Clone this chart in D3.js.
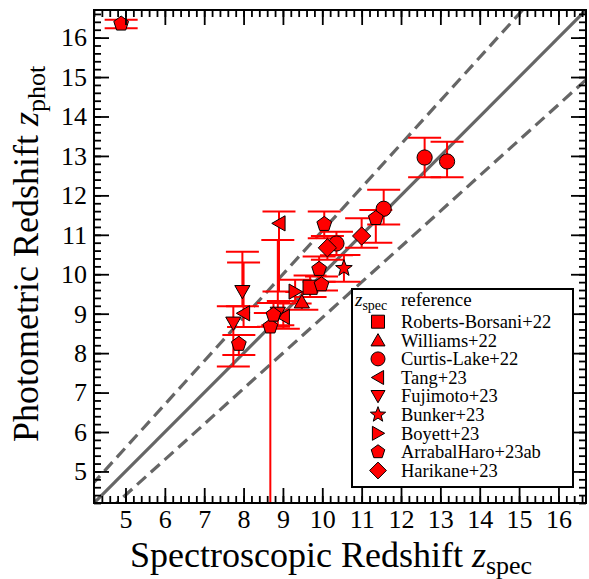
<!DOCTYPE html>
<html>
<head>
<meta charset="utf-8">
<script src="https://cdn.jsdelivr.net/npm/d3@7"></script>
<style>
  html, body { margin: 0; padding: 0; background: #fff; }
  svg text { font-family: "Liberation Serif", "DejaVu Serif", serif; fill: #000; }
</style>
</head>
<body>
<svg id="chart" width="589" height="579"></svg>
<script>
// ---- axis settings ----
const zDomain = [4.2, 16.7];
const majorTicks = [5, 6, 7, 8, 9, 10, 11, 12, 13, 14, 15, 16];
const scatterFraction = 0.1;   // dashed lines: z_phot = z_spec +/- 0.1 (1 + z_spec)

// ---- samples: spectroscopic z, photometric z, lower / upper photometric errors ----
const categories = [
  "Roberts-Borsani+22", "Williams+22", "Curtis-Lake+22", "Tang+23", "Fujimoto+23",
  "Bunker+23", "Boyett+23", "ArrabalHaro+23ab", "Harikane+23"
];
const markerShapes = ["square", "triUp", "circle", "triLeft", "triDown", "star", "triRight", "pentagon", "diamond"];

const robertsBorsaniSpec = [9.69];
const robertsBorsaniPhot = [9.67];
const robertsBorsaniLo   = [0.25];
const robertsBorsaniHi   = [0.30];

const williamsSpec = [9.48];
const williamsPhot = [9.30];
const williamsLo   = [0.20];
const williamsHi   = [0.25];

const curtisLakeSpec = [10.36, 11.56, 12.60, 13.17];
const curtisLakePhot = [10.78, 11.66, 12.96, 12.86];
const curtisLakeLo   = [0.30, 0.40, 0.50, 0.40];
const curtisLakeHi   = [0.30, 0.48, 0.50, 0.50];

const tangSpec = [8.90, 8.00, 9.01];
const tangPhot = [11.29, 9.01, 8.92];
const tangLo   = [1.73, 0.35, 0.30];
const tangHi   = [0.30, 1.29, 0.40];

const fujimotoSpec = [7.97, 7.74, 8.87];
const fujimotoPhot = [9.56, 8.76, 9.01];
const fujimotoLo   = [0.37, 1.10, 0.30];
const fujimotoHi   = [1.01, 0.43, 1.86];

const bunkerSpec = [10.55];
const bunkerPhot = [10.15];
const bunkerLo   = [0.34];
const bunkerHi   = [0.34];

const boyettSpec = [9.31];
const boyettPhot = [9.56];
const boyettLo   = [0.30];
const boyettHi   = [0.30];

const arrabalHaroSpec = [4.89, 8.68, 8.76, 7.88, 9.92, 9.98, 10.05, 11.36];
const arrabalHaroPhot = [16.35, 8.67, 8.97, 8.23, 10.13, 9.74, 11.27, 11.42];
const arrabalHaroLo   = [0.11, 5.00, 0.30, 0.28, 0.32, 0.15, 0.36, 0.62];
const arrabalHaroHi   = [0.10, 0.35, 0.30, 0.23, 0.32, 0.20, 0.32, 0.21];

const harikaneSpec = [10.13, 11.00];
const harikanePhot = [10.67, 10.97];
const harikaneLo   = [0.30, 0.30];
const harikaneHi   = [0.30, 0.45];

const seriesSpec = [robertsBorsaniSpec, williamsSpec, curtisLakeSpec, tangSpec, fujimotoSpec, bunkerSpec, boyettSpec, arrabalHaroSpec, harikaneSpec];
const seriesPhot = [robertsBorsaniPhot, williamsPhot, curtisLakePhot, tangPhot, fujimotoPhot, bunkerPhot, boyettPhot, arrabalHaroPhot, harikanePhot];
const seriesLo   = [robertsBorsaniLo, williamsLo, curtisLakeLo, tangLo, fujimotoLo, bunkerLo, boyettLo, arrabalHaroLo, harikaneLo];
const seriesHi   = [robertsBorsaniHi, williamsHi, curtisLakeHi, tangHi, fujimotoHi, bunkerHi, boyettHi, arrabalHaroHi, harikaneHi];

// ---- layout ----
const plot = { left: 94, right: 586, top: 10, bottom: 503 };
const svg = d3.select("#chart");

const x = d3.scaleLinear().domain(zDomain).range([plot.left, plot.right]);
const y = d3.scaleLinear().domain(zDomain).range([plot.bottom, plot.top]);

const minorTicks = d3.range(42, 168, 2).map(v => v / 10);

svg.append("defs").append("clipPath").attr("id", "plot-clip")
  .append("rect")
  .attr("x", plot.left).attr("y", plot.top)
  .attr("width", plot.right - plot.left).attr("height", plot.bottom - plot.top);

const inner = svg.append("g").attr("clip-path", "url(#plot-clip)");

// ---- one-to-one relation and the +/-10% (1+z) band ----
const line = d3.line().x(d => x(d[0])).y(d => y(d[1]));
const lineZ = [zDomain[0] - 1, zDomain[1] + 1];
inner.append("path")
  .attr("d", line(lineZ.map(z => [z, z])))
  .attr("fill", "none").attr("stroke", "#666").attr("stroke-width", 3.2);
[1, -1].forEach(sgn => {
  inner.append("path")
    .attr("d", line(lineZ.map(z => [z, z + sgn * scatterFraction * (1 + z)])))
    .attr("fill", "none").attr("stroke", "#666").attr("stroke-width", 3.2)
    .attr("stroke-dasharray", "12,6.5");
});

// ---- marker shapes ----
function poly(pts) {
  return "M" + pts.map(p => p[0].toFixed(2) + "," + p[1].toFixed(2)).join("L") + "Z";
}
function rotate(pts, deg) {
  const a = deg * Math.PI / 180, c = Math.cos(a), s = Math.sin(a);
  return pts.map(([px, py]) => [px * c - py * s, px * s + py * c]);
}
function markerPath(shape, r) {
  const tri = [[0, -r * 0.95], [r, r * 0.8], [-r, r * 0.8]];
  switch (shape) {
    case "square": { const h = r * 0.93; return poly([[-h, -h], [h, -h], [h, h], [-h, h]]); }
    case "circle": { const p = d3.path(); p.arc(0, 0, r, 0, 2 * Math.PI); p.closePath(); return p.toString(); }
    case "triUp": return poly(tri);
    case "triDown": return poly(rotate(tri, 180));
    case "triLeft": return poly(rotate(tri, -90));
    case "triRight": return poly(rotate(tri, 90));
    case "pentagon": {
      const R = r * 1.02;
      return poly(d3.range(5).map(i => { const a = -Math.PI / 2 + i * 2 * Math.PI / 5; return [R * Math.cos(a), R * Math.sin(a)]; }));
    }
    case "star": {
      const R = r * 1.15, ri = R * 0.42;
      return poly(d3.range(10).map(i => { const a = -Math.PI / 2 + i * Math.PI / 5; const rr = i % 2 ? ri : R; return [rr * Math.cos(a), rr * Math.sin(a)]; }));
    }
    case "diamond": { const d = r * 1.2; return poly([[0, -d], [d, 0], [0, d], [-d, 0]]); }
  }
}

const red = "#ff0000";
const capHalf = 16.5;
const markerR = 7.6;

// ---- error bars then markers, per sample ----
categories.forEach((cat, k) => {
  const pts = seriesSpec[k].map((zs, i) => ({
    zs, zp: seriesPhot[k][i], lo: seriesLo[k][i], hi: seriesHi[k][i]
  }));
  const g = inner.append("g").attr("class", "sample");
  const eb = g.selectAll("g.err").data(pts).enter().append("g").attr("class", "err")
    .attr("stroke", red).attr("stroke-width", 2).attr("fill", "none");
  eb.append("line")
    .attr("x1", d => x(d.zs)).attr("x2", d => x(d.zs))
    .attr("y1", d => y(d.zp - d.lo)).attr("y2", d => y(d.zp + d.hi));
  eb.append("line")
    .attr("x1", d => x(d.zs) - capHalf).attr("x2", d => x(d.zs) + capHalf)
    .attr("y1", d => y(d.zp + d.hi)).attr("y2", d => y(d.zp + d.hi));
  eb.append("line")
    .attr("x1", d => x(d.zs) - capHalf).attr("x2", d => x(d.zs) + capHalf)
    .attr("y1", d => y(d.zp - d.lo)).attr("y2", d => y(d.zp - d.lo));
});
categories.forEach((cat, k) => {
  const pts = seriesSpec[k].map((zs, i) => ({ zs, zp: seriesPhot[k][i] }));
  inner.append("g").selectAll("path").data(pts).enter().append("path")
    .attr("d", markerPath(markerShapes[k], markerR))
    .attr("transform", d => `translate(${x(d.zs)},${y(d.zp)})`)
    .attr("fill", red).attr("stroke", "#000").attr("stroke-width", 1);
});

// ---- axes: inward ticks on all four sides ----
function styleAxis(g) {
  g.select(".domain").remove();
  g.selectAll(".tick line").attr("stroke", "#000").attr("stroke-width", 1.8);
  g.selectAll(".tick text").attr("font-size", 26).attr("font-family", "Liberation Serif");
}
const majorLen = 15, minorLen = 7;

svg.append("g").attr("transform", `translate(0,${plot.bottom})`)
  .call(d3.axisBottom(x).tickValues(minorTicks).tickSize(-minorLen).tickFormat(""))
  .call(styleAxis);
svg.append("g").attr("transform", `translate(0,${plot.bottom})`)
  .call(d3.axisBottom(x).tickValues(majorTicks).tickSize(-majorLen).tickPadding(7).tickFormat(d3.format("d")))
  .call(styleAxis);
svg.append("g").attr("transform", `translate(0,${plot.top})`)
  .call(d3.axisTop(x).tickValues(minorTicks).tickSize(-minorLen).tickFormat(""))
  .call(styleAxis);
svg.append("g").attr("transform", `translate(0,${plot.top})`)
  .call(d3.axisTop(x).tickValues(majorTicks).tickSize(-majorLen).tickFormat(""))
  .call(styleAxis);

svg.append("g").attr("transform", `translate(${plot.left},0)`)
  .call(d3.axisLeft(y).tickValues(minorTicks).tickSize(-minorLen).tickFormat(""))
  .call(styleAxis);
svg.append("g").attr("transform", `translate(${plot.left},0)`)
  .call(d3.axisLeft(y).tickValues(majorTicks).tickSize(-majorLen).tickPadding(7).tickFormat(d3.format("d")))
  .call(styleAxis);
svg.append("g").attr("transform", `translate(${plot.right},0)`)
  .call(d3.axisRight(y).tickValues(minorTicks).tickSize(-minorLen).tickFormat(""))
  .call(styleAxis);
svg.append("g").attr("transform", `translate(${plot.right},0)`)
  .call(d3.axisRight(y).tickValues(majorTicks).tickSize(-majorLen).tickFormat(""))
  .call(styleAxis);

// frame
svg.append("rect")
  .attr("x", plot.left).attr("y", plot.top)
  .attr("width", plot.right - plot.left).attr("height", plot.bottom - plot.top)
  .attr("fill", "none").attr("stroke", "#000").attr("stroke-width", 2);

// ---- axis titles ----
const xt = svg.append("text").attr("x", 130).attr("y", 567).attr("font-size", 36);
xt.append("tspan").text("Spectroscopic Redshift ");
xt.append("tspan").attr("font-style", "italic").text("z");
xt.append("tspan").attr("font-size", 26).attr("dy", 7).text("spec");

const yt = svg.append("text").attr("transform", "translate(38,442) rotate(-90)").attr("font-size", 36);
yt.append("tspan").text("Photometric Redshift ");
yt.append("tspan").attr("font-style", "italic").text("z");
yt.append("tspan").attr("font-size", 26).attr("dy", 7).text("phot");

// ---- legend ----
const legend = svg.append("g");
legend.append("rect")
  .attr("x", 352).attr("y", 289).attr("width", 221).attr("height", 198)
  .attr("fill", "#fff").attr("stroke", "#000").attr("stroke-width", 2);
const head = legend.append("text").attr("x", 355).attr("y", 306).attr("font-size", 19);
head.append("tspan").attr("font-style", "italic").text("z");
head.append("tspan").attr("font-size", 14).attr("dy", 4).text("spec");
legend.append("text").attr("x", 401).attr("y", 306).attr("font-size", 19).text("reference");

const rows = legend.selectAll("g.row").data(categories).enter().append("g").attr("class", "row")
  .attr("transform", (d, i) => `translate(0,${321.7 + i * 18.6})`);
rows.append("path")
  .attr("d", (d, i) => markerPath(markerShapes[i], 7))
  .attr("transform", "translate(378,0)")
  .attr("fill", red).attr("stroke", "#000").attr("stroke-width", 1);
rows.append("text").attr("x", 401).attr("y", 6.3).attr("font-size", 18.5).text(d => d);
</script>
</body>
</html>
